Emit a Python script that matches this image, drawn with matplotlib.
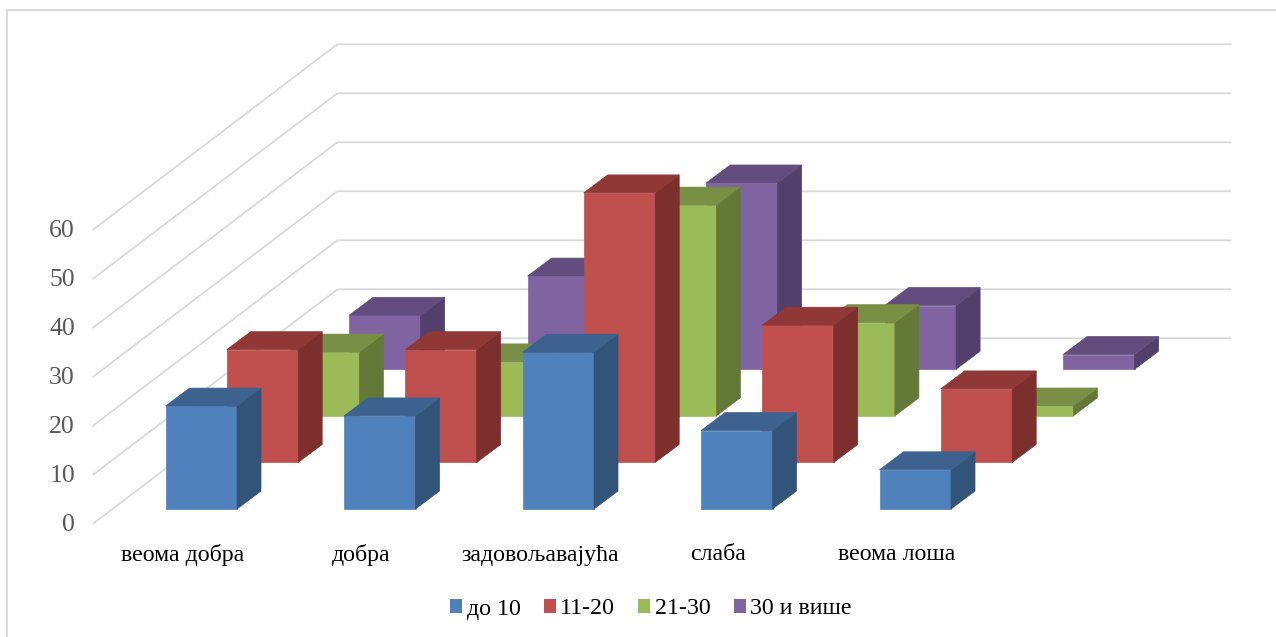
import matplotlib
matplotlib.use('Agg')
import matplotlib.pyplot as plt
from matplotlib.patches import Polygon, Patch

kategorije = ['веома добра', 'добра', 'задовољавајућа', 'слаба', 'веома лоша']
serije = ['до 10', '11-20', '21-30', '30 и више']
do_10 = [21, 19, 32, 16, 8]
od_11_20 = [23, 23, 55, 28, 15]
od_21_30 = [13, 11, 43, 19, 2]
preko_30 = [11, 19, 38, 13, 3]
podaci = [do_10, od_11_20, od_21_30, preko_30]
podeoci = [0, 10, 20, 30, 40, 50, 60]

# front, side, top colour of each series
boje = [('#4F81BD', '#335479', '#3D628F'),
        ('#C0504D', '#7D2F2D', '#8F3836'),
        ('#9BBB59', '#647937', '#788F45'),
        ('#8064A2', '#533F6C', '#634C7E')]

# oblique projection, all in pixels
PO_JEDINICI = 4.9
KAT_KORAK = 178.5
SER_DX, SER_DY = 61.2, 46.6
SIRINA = 71.5
DUB_DX, DUB_DY = 24, 18
X0, Y0 = 165.5, 509
ZID_DX, ZID_DY = 244, 185.2
X_ZID0, Y_ZID0 = 93.3, 523.5
X_KRAJ = 1230.5

plt.rcParams['font.family'] = ['Liberation Serif', 'DejaVu Serif']

fig = plt.figure(figsize=(12.76, 6.37), dpi=100)
ax = fig.add_axes([0, 0, 1, 1])
ax.set_xlim(0, 1276)
ax.set_ylim(637, 0)
ax.axis('off')

# outer chart frame
ax.plot([1276, 7, 7], [9.5, 9.5, 637], color='#D9D9D9', lw=1.3, zorder=1)

# walls and value labels
for v in podeoci:
    y = Y_ZID0 - v * PO_JEDINICI
    ax.plot([X_ZID0, X_ZID0 + ZID_DX, X_KRAJ], [y, y - ZID_DY, y - ZID_DY],
            color='#D9D9D9', lw=1.3, zorder=1, solid_joinstyle='miter')
    ax.text(75, y + 1.5, str(v), ha='right', va='center', fontsize=18.5, color='#595959')


def stub(x, y, h, boja, z):
    gore = y - h
    ivica = {'linewidth': 0.5, 'zorder': z}
    ax.add_patch(Polygon([(x, y), (x + SIRINA, y), (x + SIRINA, gore), (x, gore)],
                         facecolor=boja[0], edgecolor=boja[0], **ivica))
    ax.add_patch(Polygon([(x + SIRINA, y), (x + SIRINA + DUB_DX, y - DUB_DY),
                          (x + SIRINA + DUB_DX, gore - DUB_DY), (x + SIRINA, gore)],
                         facecolor=boja[1], edgecolor=boja[1], **ivica))
    ax.add_patch(Polygon([(x, gore), (x + SIRINA, gore),
                          (x + SIRINA + DUB_DX, gore - DUB_DY), (x + DUB_DX, gore - DUB_DY)],
                         facecolor=boja[2], edgecolor=boja[2], **ivica))


# back series first so the nearer bars cover them
z = 2
for s in range(len(podaci) - 1, -1, -1):
    for k, v in enumerate(podaci[s]):
        stub(X0 + k * KAT_KORAK + s * SER_DX, Y0 - s * SER_DY, v * PO_JEDINICI, boje[s], z)
        z += 1

for k, naziv in enumerate(kategorije):
    ax.text(183 + k * KAT_KORAK, 555, naziv, ha='center', va='center', fontsize=17.2, color='black')

rucke = [Patch(facecolor=boje[i][0], label=serije[i]) for i in range(4)]
leg = ax.legend(handles=rucke, loc='center', bbox_to_anchor=(651 / 1276, 1 - 609 / 637), ncol=4,
                frameon=False, fontsize=17.2, handlelength=0.5, handleheight=0.5,
                handletextpad=0.2, columnspacing=0.96, borderpad=0)

fig.savefig('out.png', dpi=100)
